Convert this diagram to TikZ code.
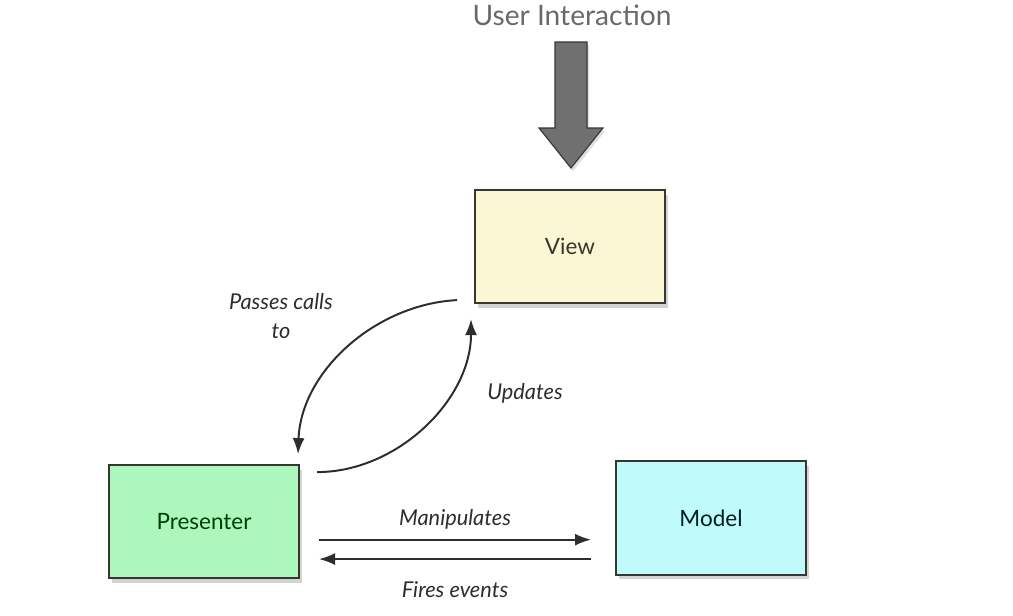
\documentclass[tikz,border=0pt]{standalone}
\usepackage{fontspec}
\setmainfont{Lato}
\usetikzlibrary{arrows.meta,positioning,shadows}

\definecolor{viewfill}{RGB}{251,246,212}
\definecolor{presfill}{RGB}{172,247,187}
\definecolor{modelfill}{RGB}{192,250,250}
\definecolor{edge}{RGB}{55,55,48}
\definecolor{linegray}{RGB}{45,45,45}
\definecolor{titlegray}{RGB}{105,105,105}
\definecolor{arrowgray}{RGB}{112,112,112}

\begin{document}
\begin{tikzpicture}[
    node distance=4cm and 4.35cm,
    box/.style={
        rectangle, draw=edge, line width=1.4pt,
        align=center, minimum width=4.75cm, minimum height=2.83cm,
        font=\fontsize{16}{19}\selectfont,
        drop shadow={opacity=0.35, shadow xshift=0.08cm, shadow yshift=-0.12cm}
    },
    note/.style={
        align=center, text=linegray, inner sep=1pt,
        font=\fontsize{15.5}{20}\selectfont\itshape
    },
    arrow/.style={-{Latex[length=4mm, width=3mm]}, line width=1.4pt, draw=linegray}
]
\useasboundingbox (0,0) rectangle (25.325,-15.375);

% user input
\node[text=titlegray, font=\fontsize{20}{24}\selectfont] (input) at (14.3,-0.375) {User Interaction};
\draw[fill=arrowgray, draw=edge, line width=0.8pt, line join=miter,
      drop shadow={opacity=0.25, shadow xshift=0.05cm, shadow yshift=-0.08cm}]
    (13.875,-1.05) -- (14.675,-1.05) -- (14.675,-3.2) -- (15.075,-3.2)
    -- (14.275,-4.2) -- (13.475,-3.2) -- (13.875,-3.2) -- cycle;

% the three parts
\node[box, fill=viewfill, text=black!80!olive] (view) at (14.25,-6.1625) {View};
\node[box, fill=presfill, text=black!75!green, below left=of view] (presenter) {Presenter};
\node[box, fill=modelfill, text=black!75!teal, right=7.875cm of presenter, yshift=0.09cm] (model) {Model};

% view <-> presenter
\draw[arrow] ([xshift=-0.425cm,yshift=0.1cm]view.south west)
    to[out=183, in=88, looseness=0.95] ([xshift=-0.05cm,yshift=0.25cm]presenter.north east);
\draw[arrow] ([xshift=0.425cm,yshift=-0.2cm]presenter.north east)
    to[out=0, in=-90, looseness=0.95] ([xshift=-0.075cm,yshift=-0.375cm]view.south west);
\node[note] (passes) at (7.025,-7.9) {Passes calls\\to};
\node[note] (updates) at (13.125,-9.825) {Updates};

% presenter <-> model
\coordinate (manip start) at ([xshift=0.475cm,yshift=-0.45cm]presenter.east);
\coordinate (manip end) at ([xshift=-0.6cm]model.west |- manip start);
\coordinate (fires start) at ([xshift=-0.6cm,yshift=-1.025cm]model.west);
\coordinate (fires end) at (manip start |- fires start);
\draw[arrow] (manip start) -- (manip end) node[note, midway, above=0.2cm] {Manipulates};
\draw[arrow] (fires start) -- (fires end) node[note, midway, below=0.5cm] {Fires events};
\end{tikzpicture}
\end{document}
